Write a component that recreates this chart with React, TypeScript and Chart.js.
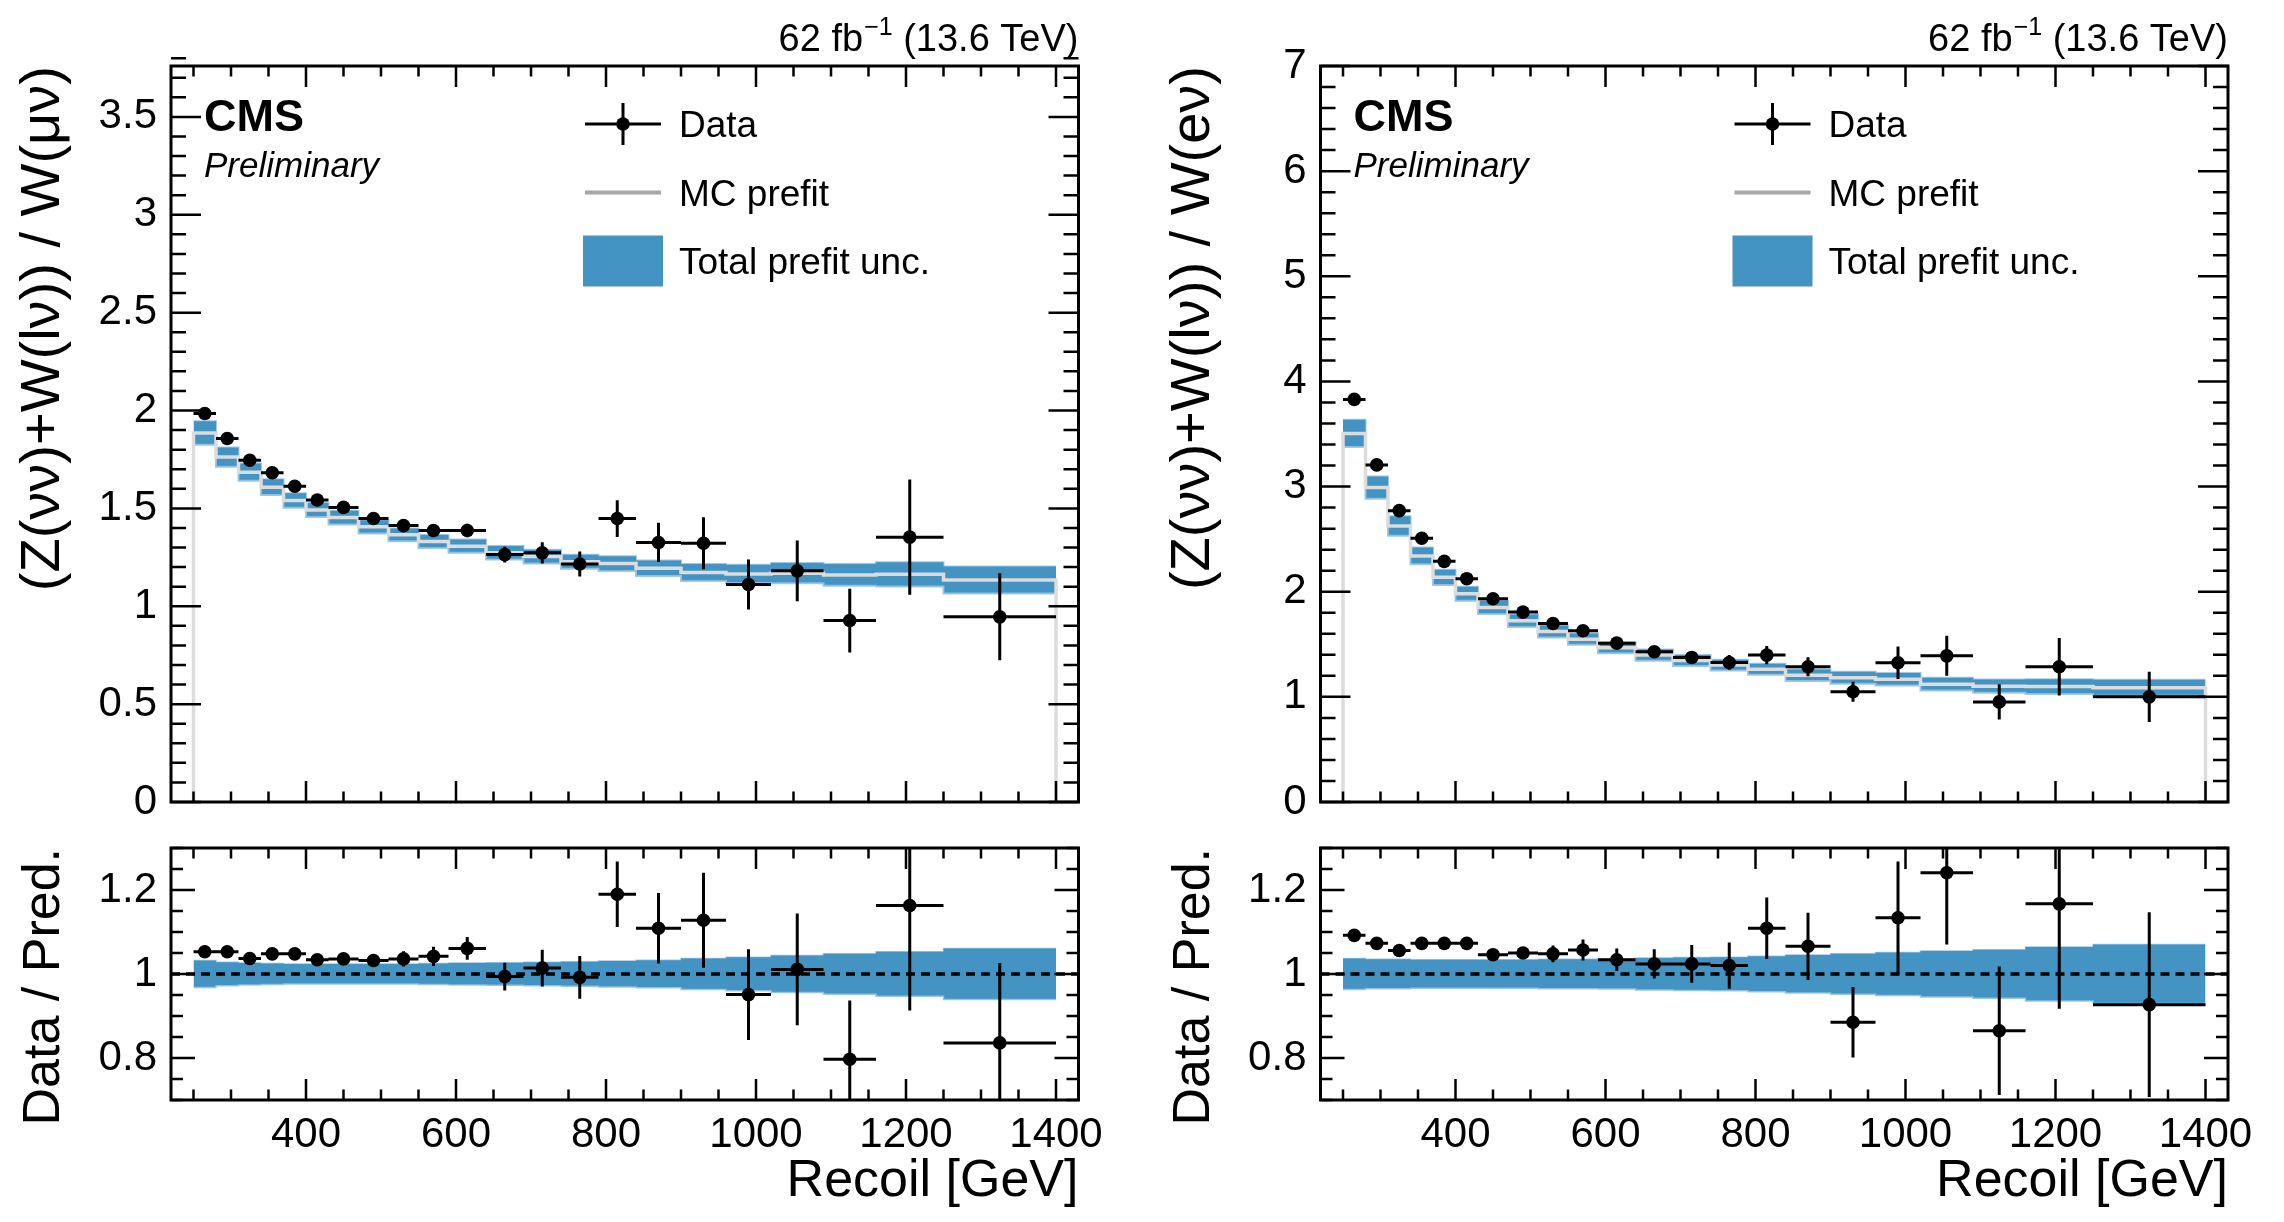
import { useEffect, useRef } from "react";
import { Chart, registerables } from "chart.js";

Chart.register(...registerables);

const FONT = "'Liberation Sans', Arial, Helvetica, sans-serif";
const BAND = "#4393c3";
const BAND_EDGE = "rgba(150, 195, 228, 0.9)";
const MC_GREY = "#dcdcdc";

// recoil bin edges in GeV (22 bins)
const EDGES = [250, 280, 310, 340, 370, 400, 430, 470, 510, 550, 590, 640, 690, 740, 790, 840, 900, 960, 1020, 1090, 1160, 1250, 1400];
const X_MIN = 220;
const X_MAX = 1430;
const X_TICKS = [400, 600, 800, 1000, 1200, 1400];

// W(mu nu) region
const MU_DATA = [1.985, 1.857, 1.746, 1.682, 1.613, 1.543, 1.505, 1.448, 1.412, 1.387, 1.387, 1.264, 1.273, 1.216, 1.448, 1.326, 1.322, 1.111, 1.181, 0.927, 1.353, 0.946];
const MU_ERR = [0.015, 0.015, 0.015, 0.016, 0.017, 0.018, 0.019, 0.021, 0.024, 0.03, 0.035, 0.04, 0.054, 0.064, 0.094, 0.1, 0.133, 0.128, 0.155, 0.163, 0.294, 0.222];
const MU_MC = [1.885, 1.762, 1.685, 1.608, 1.54, 1.492, 1.453, 1.406, 1.365, 1.331, 1.307, 1.273, 1.254, 1.227, 1.218, 1.194, 1.172, 1.165, 1.169, 1.16, 1.163, 1.134];
const MU_UNC = [0.032, 0.028, 0.026, 0.025, 0.024, 0.024, 0.024, 0.024, 0.024, 0.025, 0.026, 0.027, 0.028, 0.029, 0.031, 0.033, 0.037, 0.04, 0.044, 0.048, 0.053, 0.061];
const MU_RATIO = [1.053, 1.053, 1.037, 1.048, 1.048, 1.034, 1.036, 1.032, 1.036, 1.042, 1.061, 0.994, 1.014, 0.992, 1.19, 1.109, 1.128, 0.951, 1.011, 0.797, 1.163, 0.836];
const MU_RATIO_ERR = [0.008, 0.008, 0.009, 0.01, 0.011, 0.012, 0.013, 0.015, 0.018, 0.023, 0.027, 0.033, 0.044, 0.051, 0.078, 0.084, 0.113, 0.108, 0.133, 0.14, 0.25, 0.19];

// W(e nu) region
const E_DATA = [3.829, 3.206, 2.771, 2.508, 2.289, 2.124, 1.933, 1.806, 1.698, 1.629, 1.511, 1.429, 1.375, 1.327, 1.397, 1.286, 1.048, 1.324, 1.39, 0.952, 1.286, 1.0];
const E_ERR = [0.025, 0.022, 0.02, 0.02, 0.02, 0.02, 0.02, 0.022, 0.03, 0.04, 0.04, 0.05, 0.06, 0.07, 0.086, 0.09, 0.095, 0.155, 0.19, 0.168, 0.273, 0.238];
const E_MC = [3.505, 2.99, 2.625, 2.34, 2.137, 1.981, 1.851, 1.724, 1.622, 1.549, 1.467, 1.397, 1.346, 1.302, 1.263, 1.206, 1.181, 1.168, 1.121, 1.102, 1.098, 1.086];
const E_UNC = [0.037, 0.035, 0.035, 0.034, 0.034, 0.034, 0.034, 0.034, 0.035, 0.035, 0.036, 0.038, 0.039, 0.04, 0.042, 0.045, 0.048, 0.051, 0.055, 0.058, 0.064, 0.07];
const E_RATIO = [1.092, 1.073, 1.056, 1.073, 1.073, 1.073, 1.046, 1.05, 1.048, 1.057, 1.034, 1.024, 1.024, 1.02, 1.109, 1.066, 0.885, 1.134, 1.241, 0.865, 1.167, 0.927];
const E_RATIO_ERR = [0.007, 0.007, 0.008, 0.008, 0.009, 0.01, 0.011, 0.013, 0.02, 0.025, 0.027, 0.035, 0.045, 0.055, 0.073, 0.08, 0.084, 0.134, 0.171, 0.153, 0.25, 0.22];

const MU_Y_TICKS = [0, 0.5, 1, 1.5, 2, 2.5, 3, 3.5];
const E_Y_TICKS = [0, 1, 2, 3, 4, 5, 6, 7];
const RATIO_TICKS = [0.8, 1, 1.2];

function minorTicks(lo: number, hi: number, step: number, major: number[]) {
  const out: number[] = [];
  const n = Math.round((hi - lo) / step);
  for (let k = 0; k <= n; k++) {
    const v = lo + k * step;
    if (!major.some((m) => Math.abs(m - v) < 1e-6)) out.push(v);
  }
  return out;
}
const X_MINOR = minorTicks(250, 1400, 50, X_TICKS);

const centres = EDGES.slice(0, -1).map((e, i) => (e + EDGES[i + 1]) / 2);

function stepPoints(values: number[]) {
  const pts = values.map((v, i) => ({ x: EDGES[i], y: v }));
  pts.push({ x: EDGES[EDGES.length - 1], y: values[values.length - 1] });
  return pts;
}

function errorBars(values: number[], errs: number[]) {
  const h: any[] = [];
  const v: any[] = [];
  values.forEach((y, i) => {
    h.push({ x: EDGES[i], y }, { x: EDGES[i + 1], y }, { x: EDGES[i + 1], y: null });
    v.push({ x: centres[i], y: y - errs[i] }, { x: centres[i], y: y + errs[i] }, { x: centres[i], y: null });
  });
  return { h, v };
}

function pointSets(values: number[], errs: number[]) {
  const { h, v } = errorBars(values, errs);
  return [
    { data: values.map((y, i) => ({ x: centres[i], y })), showLine: false, pointRadius: 6.8, pointBackgroundColor: "#000", pointBorderWidth: 0, order: 0 },
    { data: h, borderColor: "#000", borderWidth: 3, pointRadius: 0, order: 1 },
    { data: v, borderColor: "#000", borderWidth: 3, pointRadius: 0, order: 1 },
  ];
}

function drawFrame(chart: any, yMajor: number[], yMinor: number[], yLen: number) {
  const { ctx, chartArea: a, scales } = chart;
  const xs = scales.x;
  const ys = scales.y;
  ctx.save();
  ctx.strokeStyle = "#000";
  ctx.lineWidth = 2.5;
  ctx.beginPath();
  const xt = (vals: number[], len: number) =>
    vals.forEach((v) => {
      const px = xs.getPixelForValue(v);
      ctx.moveTo(px, a.bottom);
      ctx.lineTo(px, a.bottom - len);
      ctx.moveTo(px, a.top);
      ctx.lineTo(px, a.top + len);
    });
  const yt = (vals: number[], len: number) =>
    vals.forEach((v) => {
      const py = ys.getPixelForValue(v);
      ctx.moveTo(a.left, py);
      ctx.lineTo(a.left + len, py);
      ctx.moveTo(a.right, py);
      ctx.lineTo(a.right - len, py);
    });
  xt(X_TICKS, 21);
  xt(X_MINOR, 10.5);
  yt(yMajor, yLen);
  yt(yMinor, yLen / 2);
  ctx.stroke();
  ctx.lineWidth = 3;
  ctx.strokeRect(a.left, a.top, a.right - a.left, a.bottom - a.top);
  ctx.restore();
}

function vText(ctx: CanvasRenderingContext2D, text: string, x: number, yTop: number, font: string) {
  ctx.save();
  ctx.translate(x, yTop);
  ctx.rotate(-Math.PI / 2);
  ctx.font = font;
  ctx.fillStyle = "#000";
  ctx.textAlign = "right";
  ctx.textBaseline = "alphabetic";
  ctx.fillText(text, 0, 0);
  ctx.restore();
}

// keep the label overflow from pushing the plot frame around
function noPad(s: any) {
  s.paddingTop = 0;
  s.paddingBottom = 0;
  s.paddingLeft = 0;
  s.paddingRight = 0;
}

function yScale(min: number, max: number, ticks: number[], width: number) {
  return {
    type: "linear",
    min,
    max,
    afterBuildTicks: (s: any) => {
      s.ticks = ticks.map((value) => ({ value }));
    },
    afterFit: (s: any) => {
      s.width = width;
      noPad(s);
    },
    grid: { display: false, drawTicks: false },
    border: { display: false },
    ticks: { autoSkip: false, padding: 14, color: "#000", font: { family: FONT, size: 42 }, callback: (v: any) => String(v) },
  };
}

const baseOptions = {
  animation: false,
  responsive: false,
  maintainAspectRatio: false,
  events: [],
  plugins: { legend: { display: false }, tooltip: { enabled: false } },
};

type MainSpec = {
  data: number[];
  err: number[];
  mc: number[];
  unc: number[];
  yTicks: number[];
  yMax: number;
  yMinorStep: number;
  ylabel: string;
  axisWidth: number;
  padRight: number;
};

function mainConfig(p: MainSpec): any {
  const upper = stepPoints(p.mc.map((m, i) => m * (1 + p.unc[i])));
  const lower = stepPoints(p.mc.map((m, i) => m * (1 - p.unc[i])));
  const mcLine = [{ x: EDGES[0], y: 0 }, ...stepPoints(p.mc), { x: EDGES[EDGES.length - 1], y: 0 }];
  const yMinor = minorTicks(0, p.yMax, p.yMinorStep, p.yTicks);
  const decor = {
    id: "decor",
    afterDraw(chart: any) {
      const { ctx, chartArea: a } = chart;
      drawFrame(chart, p.yTicks, yMinor, 30);
      ctx.save();
      ctx.fillStyle = "#000";
      ctx.textBaseline = "alphabetic";
      ctx.textAlign = "left";
      ctx.font = `bold 45px ${FONT}`;
      ctx.fillText("CMS", a.left + 33, a.top + 65);
      ctx.font = `italic 35px ${FONT}`;
      ctx.fillText("Preliminary", a.left + 33, a.top + 111);

      // luminosity label, right aligned
      const base = a.top - 15;
      ctx.font = `38px ${FONT}`;
      const tail = " (13.6 TeV)";
      const wTail = ctx.measureText(tail).width;
      ctx.fillText(tail, a.right - wTail, base);
      ctx.font = `25px ${FONT}`;
      const sup = "\u22121";
      const wSup = ctx.measureText(sup).width;
      ctx.fillText(sup, a.right - wTail - wSup, base - 16);
      ctx.font = `38px ${FONT}`;
      const head = "62 fb";
      const wHead = ctx.measureText(head).width;
      ctx.fillText(head, a.right - wTail - wSup - wHead - 1, base);

      // legend
      const lx = a.left + 452;
      const rows = [a.top + 58, a.top + 126.5, a.top + 195];
      ctx.strokeStyle = "#000";
      ctx.lineWidth = 3;
      ctx.beginPath();
      ctx.moveTo(lx - 38, rows[0]);
      ctx.lineTo(lx + 38, rows[0]);
      ctx.moveTo(lx, rows[0] - 21);
      ctx.lineTo(lx, rows[0] + 21);
      ctx.stroke();
      ctx.beginPath();
      ctx.arc(lx, rows[0], 6.8, 0, Math.PI * 2);
      ctx.fill();
      ctx.strokeStyle = "#a6a6a6";
      ctx.lineWidth = 4;
      ctx.beginPath();
      ctx.moveTo(lx - 38, rows[1]);
      ctx.lineTo(lx + 38, rows[1]);
      ctx.stroke();
      ctx.fillStyle = BAND;
      ctx.fillRect(lx - 40, rows[2] - 25.5, 80, 51);
      ctx.fillStyle = "#000";
      ctx.font = `37px ${FONT}`;
      ctx.fillText("Data", a.left + 508, rows[0] + 13);
      ctx.fillText("MC prefit", a.left + 508, rows[1] + 13);
      ctx.fillText("Total prefit unc.", a.left + 508, rows[2] + 13);
      ctx.restore();

      vText(ctx, p.ylabel, a.left - 112, a.top, `56px ${FONT}`);
    },
  };
  return {
    type: "line",
    data: {
      datasets: [
        ...pointSets(p.data, p.err),
        { data: mcLine, stepped: "before", borderColor: MC_GREY, borderWidth: 3.5, pointRadius: 0, order: 2 },
        { data: upper, stepped: "before", borderColor: BAND_EDGE, borderWidth: 2, pointRadius: 0, fill: false, order: 4 },
        { data: lower, stepped: "before", borderColor: BAND_EDGE, borderWidth: 2, pointRadius: 0, fill: "-1", backgroundColor: BAND, order: 3 },
      ],
    },
    options: {
      ...baseOptions,
      layout: { padding: { top: 66, right: p.padRight, bottom: 28, left: 0 } },
      scales: {
        x: { type: "linear", min: X_MIN, max: X_MAX, display: false },
        y: yScale(0, p.yMax, p.yTicks, p.axisWidth),
      },
    },
    plugins: [decor],
  };
}

type RatioSpec = { ratio: number[]; err: number[]; unc: number[]; axisWidth: number; padRight: number };

function ratioConfig(p: RatioSpec): any {
  const upper = stepPoints(p.unc.map((u) => 1 + u));
  const lower = stepPoints(p.unc.map((u) => 1 - u));
  const yMinor = minorTicks(0.7, 1.3, 0.05, RATIO_TICKS);
  const decor = {
    id: "decor",
    afterDraw(chart: any) {
      const { ctx, chartArea: a } = chart;
      drawFrame(chart, RATIO_TICKS, yMinor, 24);
      vText(ctx, "Data / Pred.", a.left - 112, a.top, `52px ${FONT}`);
      ctx.save();
      ctx.fillStyle = "#000";
      ctx.font = `52px ${FONT}`;
      ctx.textAlign = "right";
      ctx.textBaseline = "alphabetic";
      ctx.fillText("Recoil [GeV]", a.right, a.bottom + 96);
      ctx.restore();
    },
  };
  return {
    type: "line",
    data: {
      datasets: [
        ...pointSets(p.ratio, p.err),
        { data: [{ x: X_MIN, y: 1 }, { x: X_MAX, y: 1 }], borderColor: "#000", borderWidth: 3.5, borderDash: [9, 6], pointRadius: 0, order: 2 },
        { data: upper, stepped: "before", borderColor: BAND_EDGE, borderWidth: 1.5, pointRadius: 0, fill: false, order: 4 },
        { data: lower, stepped: "before", borderColor: BAND_EDGE, borderWidth: 1.5, pointRadius: 0, fill: "-1", backgroundColor: BAND, order: 3 },
      ],
    },
    options: {
      ...baseOptions,
      layout: { padding: { top: 18, right: p.padRight, bottom: 0, left: 0 } },
      scales: {
        x: {
          type: "linear",
          min: X_MIN,
          max: X_MAX,
          afterBuildTicks: (s: any) => {
            s.ticks = X_TICKS.map((value) => ({ value }));
          },
          afterFit: (s: any) => {
            s.height = 122;
            noPad(s);
          },
          grid: { display: false, drawTicks: false },
          border: { display: false },
          ticks: { autoSkip: false, maxRotation: 0, minRotation: 0, padding: 10, color: "#000", font: { family: FONT, size: 42 }, callback: (v: any) => String(v) },
        },
        y: yScale(0.7, 1.3, RATIO_TICKS, p.axisWidth),
      },
    },
    plugins: [decor],
  };
}

const buildMuMain = () =>
  mainConfig({ data: MU_DATA, err: MU_ERR, mc: MU_MC, unc: MU_UNC, yTicks: MU_Y_TICKS, yMax: 3.76, yMinorStep: 0.1, ylabel: "(Z(\u03bd\u03bd)+W(l\u03bd)) / W(\u03bc\u03bd)", axisWidth: 171, padRight: 63.5 });
const buildMuRatio = () => ratioConfig({ ratio: MU_RATIO, err: MU_RATIO_ERR, unc: MU_UNC, axisWidth: 171, padRight: 63.5 });
const buildEMain = () =>
  mainConfig({ data: E_DATA, err: E_ERR, mc: E_MC, unc: E_UNC, yTicks: E_Y_TICKS, yMax: 7, yMinorStep: 0.2, ylabel: "(Z(\u03bd\u03bd)+W(l\u03bd)) / W(e\u03bd)", axisWidth: 178.5, padRight: 56 });
const buildERatio = () => ratioConfig({ ratio: E_RATIO, err: E_RATIO_ERR, unc: E_UNC, axisWidth: 178.5, padRight: 56 });

function ChartBox({ left, top, width, height, build }: { left: number; top: number; width: number; height: number; build: () => any }) {
  const ref = useRef<HTMLCanvasElement>(null);
  useEffect(() => {
    if (!ref.current) return;
    const chart = new Chart(ref.current, build());
    return () => chart.destroy();
  }, [build]);
  return <canvas ref={ref} width={width} height={height} style={{ position: "absolute", left, top, width, height }} />;
}

export default function App() {
  return (
    <div style={{ position: "absolute", left: 0, top: 0, width: 2284, height: 1222, background: "#fff" }}>
      <ChartBox left={0} top={0} width={1142} height={830} build={buildMuMain} />
      <ChartBox left={0} top={830} width={1142} height={392} build={buildMuRatio} />
      <ChartBox left={1142} top={0} width={1142} height={830} build={buildEMain} />
      <ChartBox left={1142} top={830} width={1142} height={392} build={buildERatio} />
    </div>
  );
}
